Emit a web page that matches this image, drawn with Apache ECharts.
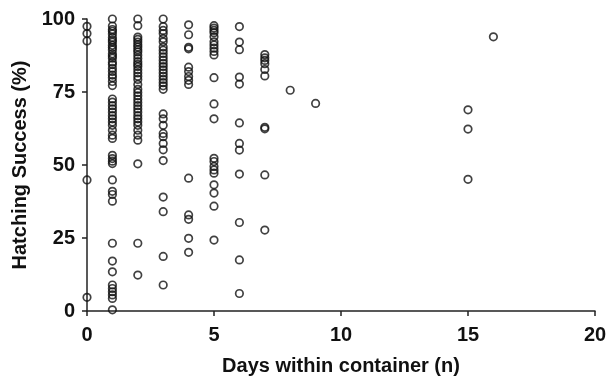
<!DOCTYPE html>
<html>
<head>
<meta charset="utf-8">
<script src="https://cdn.jsdelivr.net/npm/echarts@6/dist/echarts.min.js"></script>
<style>
  html, body { margin: 0; padding: 0; background: #fff; }
  #main { width: 616px; height: 381px; }
</style>
</head>
<body>
<div id="main"></div>
<script>
// hatching success (%) per nest, grouped by days spent in container
var day0 = [97.5, 95, 92.5, 44.9, 4.7];
var day1 = [100, 97.6, 96.4, 95.8, 94.9, 93.7, 92.8, 92.1, 91.0, 90.2, 89.4, 88.1, 87.3, 86.6, 85.2, 84.4, 83.1, 82.0, 80.8, 79.9, 78.6, 77.2,
            72.6, 71.5, 70.3, 69.2, 68.1, 66.9, 65.8, 64.7, 63.6, 61.9, 60.2, 59.1,
            53.3, 52.2, 51.3, 50.5, 44.9, 41.0, 39.9, 37.6,
            23.2, 17.1, 13.4, 8.9, 7.7, 6.6, 5.5, 4.3, 0.4];
var day2 = [100, 97.7, 93.8, 93.0, 92.1, 91.2, 90.4, 89.5, 88.7, 87.6, 86.5, 85.4, 84.5, 83.7, 82.6, 81.5, 80.4, 79.3, 77.6,
            75.9, 74.8, 73.7, 72.5, 71.4, 70.3, 69.2, 68.1, 66.9, 65.8, 64.7, 63.6, 61.9, 60.2, 58.5,
            50.4, 23.2, 12.3];
var day3 = [100, 97.4, 96.1, 95.0, 93.3, 92.2, 90.4, 89.3, 88.2, 87.0, 85.9, 84.8, 83.7, 82.6, 81.5, 80.4, 79.3, 78.2, 77.1, 75.9,
            67.5, 65.8, 63.6, 60.8, 59.7, 57.4, 55.2, 51.5,
            39.0, 34.0, 18.7, 8.9];
var day4 = [98.0, 94.6, 90.3, 89.8, 83.5, 82.0, 80.3, 79.0, 77.6, 45.5, 32.9, 31.4, 24.9, 20.1];
var day5 = [97.7, 96.9, 96.1, 95.3, 93.9, 92.2, 91.1, 90.0, 88.9, 87.7, 79.9, 70.9, 65.8,
            52.3, 51.2, 49.5, 48.3, 47.2, 43.2, 40.4, 35.9, 24.3];
var day6 = [97.4, 92.1, 89.5, 80.1, 77.7, 64.4, 57.4, 55.1, 46.9, 30.3, 17.5, 6.0];
var day7 = [87.8, 86.7, 85.8, 84.7, 82.7, 80.5, 62.4, 62.9, 46.6, 27.7];
var day8 = [75.6];
var day9 = [71.1];
var day15 = [68.9, 62.3, 45.1];
var day16 = [93.9];

var dayValues = [0, 1, 2, 3, 4, 5, 6, 7, 8, 9, 15, 16];
var dayGroups = [day0, day1, day2, day3, day4, day5, day6, day7, day8, day9, day15, day16];

var xTicks = [0, 5, 10, 15, 20];
var yTicks = [0, 25, 50, 75, 100];

var points = [];
dayGroups.forEach(function (group, i) {
    group.forEach(function (v) {
        points.push([dayValues[i], v]);
    });
});

var chart = echarts.init(document.getElementById('main'), null, { renderer: 'canvas' });

var axisFont = {
    fontFamily: 'Liberation Sans, Arial, sans-serif',
    fontWeight: 'bold',
    fontSize: 20,
    color: '#111'
};

var option = {
    animation: false,
    backgroundColor: '#fff',
    grid: {
        left: 87,
        right: 21,
        top: 19,
        bottom: 66
    },
    xAxis: {
        type: 'value',
        min: xTicks[0],
        max: xTicks[xTicks.length - 1],
        interval: 5,
        name: 'Days within container (n)',
        nameLocation: 'middle',
        nameGap: 45,
        nameTextStyle: axisFont,
        axisLine: { show: true, onZero: false, lineStyle: { color: '#222', width: 1.5 } },
        axisTick: { show: true, length: 5, lineStyle: { color: '#222', width: 1.5 } },
        axisLabel: Object.assign({ margin: 14 }, axisFont),
        splitLine: { show: false }
    },
    yAxis: {
        type: 'value',
        min: yTicks[0],
        max: yTicks[yTicks.length - 1],
        interval: 25,
        name: 'Hatching Success (%)',
        nameLocation: 'middle',
        nameGap: 57,
        nameTextStyle: axisFont,
        axisLine: { show: true, onZero: false, lineStyle: { color: '#222', width: 1.5 } },
        axisTick: { show: true, length: 5, lineStyle: { color: '#222', width: 1.5 } },
        axisLabel: Object.assign({ margin: 12 }, axisFont),
        splitLine: { show: false }
    },
    series: [{
        type: 'scatter',
        data: points,
        symbol: 'circle',
        symbolSize: 7.5,
        itemStyle: {
            color: 'rgba(0,0,0,0)',
            borderColor: '#111',
            borderWidth: 1.7
        }
    }]
};

chart.setOption(option);
</script>
</body>
</html>
